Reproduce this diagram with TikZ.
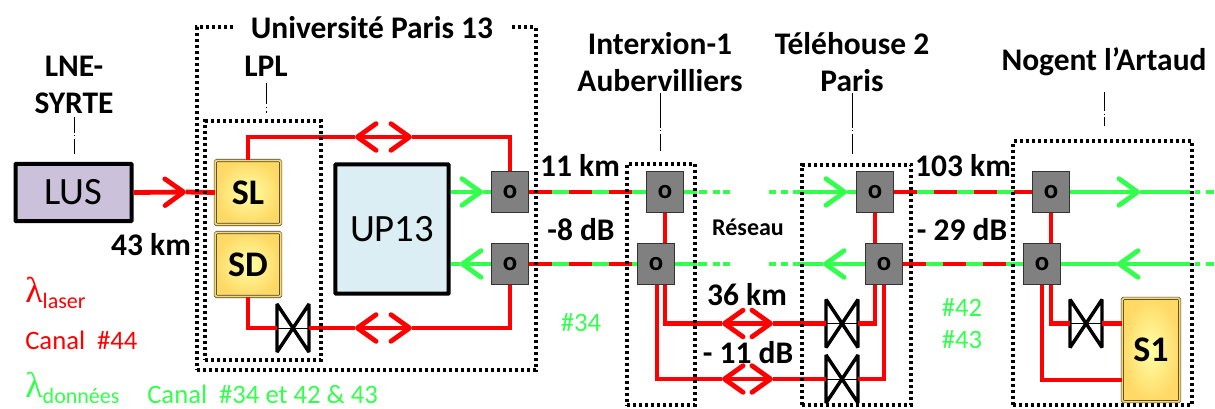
\documentclass[tikz,border=0pt]{standalone}
\usepackage{fontspec}
\setmainfont{Carlito}
\newfontfamily\greekfont{Liberation Serif}
\usetikzlibrary{arrows.meta}
\definecolor{fibred}{RGB}{255,0,0}
\definecolor{fibgreen}{RGB}{51,255,77}
\definecolor{lusfill}{RGB}{204,193,218}
\definecolor{upfill}{RGB}{218,238,243}
\definecolor{gold}{RGB}{255,217,102}
\tikzset{
  barb/.tip={Straight Barb[length=14pt,width=20pt,round]},
  laser/.style={draw=fibred,line width=3.6pt},
  data/.style={draw=fibgreen,line width=3.6pt},
  splitfib/.style={draw=fibred,line width=3.6pt,dash pattern=on 17pt off 13pt},
  site/.style={draw=black,line width=2.6pt,dash pattern=on 2.25pt off 2.25pt,inner sep=0},
  optic/.style={draw=black!80,line width=1.1pt,fill=black!50,minimum width=27.4pt,minimum height=30.4pt,inner sep=0,font=\bfseries\fontsize{20}{20}\selectfont},
  source/.style={draw=black!75,double=gold,double distance=1.3pt,line width=.5pt,rounded corners=1pt,shading=radial,inner color=yellow!35!white,outer color=gold,inner sep=0,font=\bfseries\fontsize{27}{29}\selectfont},
  block/.style={draw=black,line width=3pt,rounded corners=.5pt,inner sep=0,font=\fontsize{29}{31}\selectfont},
  lab/.style={align=center,inner sep=0,font=\bfseries\fontsize{23.6}{27.5}\selectfont},
  leader/.style={thin,dash pattern=on #1 off 2pt on .7pt off 2pt},
  valvebox/.style={minimum width=24pt,minimum height=36pt,inner sep=0,outer sep=0},
  rednote/.style={text=fibred,anchor=west,inner sep=0,font=\fontsize{20}{22}\selectfont},
  greennote/.style={text=fibgreen,anchor=west,inner sep=0,font=\fontsize{20}{22}\selectfont}
}
\newcommand{\valve}[3]{%
  \node[valvebox] (#1) at (#2,#3) {};
  \draw[line width=2.6pt,miter limit=2,fill=white] (#1.north west) -- (#1.south east) -- (#1.north east) -- (#1.south west) -- cycle;
  \draw[very thin] (#1.west) -- (#1.east);
}
\begin{document}
\begin{tikzpicture}[x=.75pt,y=-.75pt]
\useasboundingbox (0,0) rectangle (1215,408);
% boxes
\node[block,fill=lusfill,minimum width=87pt,minimum height=43pt] (lus) at (73.5,192.5) {LUS};
\node[source,minimum width=49pt,minimum height=48pt] (sl) at (248,192.5) {SL};
\node[source,minimum width=49pt,minimum height=48pt] (sd) at (248,264.5) {SD};
\node[block,fill=upfill,minimum width=85pt,minimum height=97pt] (up) at (392,229) {UP13};
\node[source,minimum width=43pt,minimum height=77.5pt] (s1) at (1151,350) {S1};
% optical nodes
\node[optic] (oa) at (510,192) {o};
\node[optic] (ob) at (510,264) {o};
\node[optic] (ia) at (665,192) {o};
\node[optic] (ib) at (656,264) {o};
\node[optic] (ta) at (875,192) {o};
\node[optic] (tb) at (884,264) {o};
\node[optic] (na) at (1051,192) {o};
\node[optic] (nb) at (1042,264) {o};
% free ends and chevrons
\coordinate (t0) at (186,192);
\coordinate (t1) at (355,137);
\coordinate (t2) at (412,137);
\coordinate (t3) at (355,328);
\coordinate (t4) at (412,328);
\coordinate (t5) at (722,323.5);
\coordinate (t6) at (773,323.5);
\coordinate (t7) at (722,379);
\coordinate (t8) at (773,379);
\coordinate (g0) at (483,192);
\coordinate (g1) at (460,264);
\coordinate (g2) at (847,192);
\coordinate (g3) at (823,264);
\coordinate (g4) at (1140,192);
\coordinate (g5) at (1117,264);
\coordinate (e0) at (730,192);
\coordinate (e1) at (730,264);
\coordinate (e2) at (769,192);
\coordinate (e3) at (769,264);
\coordinate (e4) at (1190,192);
\coordinate (e5) at (1190,264);
\coordinate (e6) at (1195,192);
\coordinate (e7) at (1195,264);
\coordinate (e8) at (1214,192);
\coordinate (e9) at (1214,264);
\valve{v0}{293}{328}
\valve{v1}{842}{323.5}
\valve{v2}{842}{379}
\valve{v3}{1086}{323.5}
% laser
\draw[laser,-barb] (lus.east) -- (t0);
\draw[laser] (t0) -- (sl.west);
\draw[laser] (sl.north) |- (t1);
\draw[laser,barb-barb] (t1) -- (t2);
\draw[laser] (t2) -| (oa.north);
\draw[laser] (sd.south) |- (v0.west);
\draw[laser] (v0.east) -- (t3);
\draw[laser,barb-barb] (t3) -- (t4);
\draw[laser] (t4) -| (ob.south);
\draw[laser] (ia.south) -- (ia.south |- ib.north);
\draw[laser] (ta.south) -- (ta.south |- tb.north);
\draw[laser] (na.south) -- (na.south |- nb.north);
\draw[laser] (ia.south |- ib.south) |- (t5);
\draw[laser,barb-barb] (t5) -- (t6);
\draw[laser] (t6) -- (v1.west);
\draw[laser] ([xshift=.75pt]ib.south) |- (t7);
\draw[laser,barb-barb] (t7) -- (t8);
\draw[laser] (t8) -- (v2.west);
\draw[laser] (v1.east) -| (ta.south |- tb.south);
\draw[laser] (v2.east) -| (tb.south);
\draw[laser] (na.south |- nb.south) |- (v3.west);
\draw[laser] (v3.east) -- (s1.west |- v3.east);
\draw[laser] (nb.south) |- ([yshift=-22.5pt]s1.west);
% data
\draw[data,-barb] (up.east |- oa.west) -- (g0);
\draw[data] (g0) -- (oa.west);
\draw[data,-barb] (ob.west) -- (g1);
\draw[data] (g1) -- (up.east |- ob.west);
\draw[data] (oa.east) -- (ia.west);
\draw[splitfib] (oa.east) -- (ia.west);
\draw[data] (ob.east) -- (ib.west);
\draw[splitfib] (ob.east) -- (ib.west);
\draw[data] (ta.east) -- (na.west);
\draw[splitfib] (ta.east) -- (na.west);
\draw[data] (tb.east) -- (nb.west);
\draw[splitfib] (tb.east) -- (nb.west);
\draw[data,dash pattern=on 10pt off 1pt on 6.5pt off 4.5pt on 5pt off 2.5pt on 5pt off 50pt] (ia.east) -- (e0);
\draw[data,dash pattern=on 16.5pt off 1pt on 6.5pt off 4.5pt on 5pt off 2.5pt on 5pt off 50pt] (ib.east) -- (e1);
\draw[data,dash pattern=on 5pt off 4pt on 5pt off 4pt on 200pt off 1pt,-barb] (e2) -- (g2);
\draw[data] (g2) -- (ta.west);
\draw[data,dash pattern=on 5pt off 4pt on 5pt off 4pt on 200pt off 1pt] (e3) -- (g3);
\draw[data,-barb] (tb.west) -- (g3);
\draw[data,-barb] (na.east) -- (g4);
\draw[data] (g4) -- (e4);
\draw[data,dash pattern=on 4pt off 4pt on 6pt off 50pt] (e6) -- (e8);
\draw[data,-barb] (e5) -- (g5);
\draw[data] (g5) -- (nb.east);
\draw[data,dash pattern=on 4pt off 4pt on 6pt off 50pt] (e7) -- (e9);
% sites
\node[site,minimum width=254pt,minimum height=257pt] (upn) at (366.5,198.5) {};
\node[site,minimum width=87pt,minimum height=179pt] (lpb) at (263,240.5) {};
\node[site,minimum width=51pt,minimum height=181pt] (ix) at (661,284.5) {};
\node[site,minimum width=82pt,minimum height=180pt] (th) at (856.5,285) {};
\node[site,minimum width=134pt,minimum height=198pt] (ng) at (1102.5,273) {};
% labels
\node[lab,fill=white,inner xsep=13.5pt,inner ysep=2pt] (upl) at (372,28) {Université Paris 13};
\node[lab] (lne) at (74,85) {LNE-\\SYRTE};
\node[lab] (lpl) at (266,66) {LPL};
\node[lab] (ixl) at (660,62) {Interxion-1\\Aubervilliers};
\node[lab] (thl) at (852,62) {Téléhouse 2\\Paris};
\node[lab] (ngl) at (1104,62) {Nogent l’Artaud};
\draw[leader=12pt,shorten <=2pt,shorten >=6pt] (lne.south) -- (lne.south |- lus.north);
\draw[leader=16pt,shorten <=5pt,shorten >=5pt] (lpl.south) -- (lpl.south |- lpb.north);
\draw[leader=26pt,shorten <=1pt,shorten >=8pt] (ixl.south) -- (ixl.south |- ix.north);
\draw[leader=26pt,shorten <=1pt,shorten >=7pt] (thl.south) -- (thl.south |- th.north);
\draw[leader=14pt,shorten <=12pt,shorten >=10pt] (ngl.south) -- (ngl.south |- ng.north);
\node[lab] (d0) at (151,245) {43 km};
\node[lab] (d1) at (580,165) {11 km};
\node[lab] (d2) at (581,230) {-8 dB};
\node[lab] (d3) at (963,166) {103 km};
\node[lab] (d4) at (962,230) {- 29 dB};
\node[lab] (d5) at (747,295) {36 km};
\node[lab] (d6) at (748,353) {- 11 dB};
\node[inner sep=0,font=\bfseries\fontsize{18}{20}\selectfont] (res) at (748,227) {Réseau};
\node[greennote,anchor=center] (c0) at (581,323) {\#34};
\node[greennote,anchor=center] (c1) at (962,307) {\#42};
\node[greennote,anchor=center] (c2) at (962,340) {\#43};
\node[rednote] (ll) at (25,293) {{\greekfont\fontsize{27}{27}\selectfont λ}\raisebox{-5pt}{\fontsize{16.5}{18}\selectfont laser}};
\node[rednote] (cl) at (25,340) {Canal\ \ \#44};
\node[greennote] (ld) at (25,388) {{\greekfont\fontsize{27}{27}\selectfont λ}\raisebox{-5pt}{\fontsize{16.5}{18}\selectfont données}};
\node[greennote] (cd) at (147,394) {Canal\ \ \#34 et 42 \& 43};
\end{tikzpicture}
\end{document}
